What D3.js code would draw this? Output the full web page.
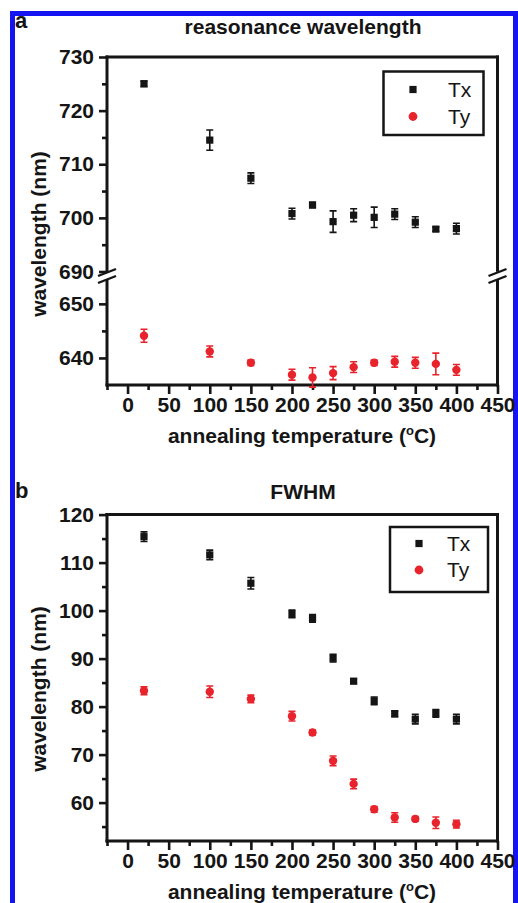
<!DOCTYPE html>
<html>
<head>
<meta charset="utf-8">
<script src="https://cdn.jsdelivr.net/npm/d3@7"></script>
<style>
  body { margin: 0; background: #fff; }
  svg { display: block; }
</style>
</head>
<body>
<svg id="fig" width="518" height="903"></svg>
<script>
// ---- data ----
const temps = [20, 100, 150, 200, 225, 250, 275, 300, 325, 350, 375, 400];
const seriesNames = ["Tx", "Ty"];

// resonance wavelength (nm)
const resTx    = [725.0, 714.5, 707.4, 700.8, 702.4, 699.3, 700.5, 700.1, 700.7, 699.2, 697.9, 698.0];
const resTxErr = [0.5, 1.9, 1.0, 1.0, 0.5, 2.0, 1.2, 1.9, 1.0, 1.0, 0.4, 1.0];
const resTy    = [644.1, 641.2, 639.1, 636.9, 636.4, 637.2, 638.3, 639.1, 639.3, 639.1, 638.9, 637.8];
const resTyErr = [1.2, 1.0, 0.5, 1.0, 1.8, 1.2, 1.0, 0.5, 1.0, 1.0, 2.0, 1.0];

// FWHM (nm)
const fwhmTx    = [115.4, 111.6, 105.7, 99.3, 98.4, 90.1, 85.3, 81.2, 78.5, 77.4, 78.6, 77.4];
const fwhmTxErr = [1.0, 1.0, 1.2, 0.8, 0.8, 0.8, 0.5, 0.8, 0.6, 1.0, 0.8, 1.0];
const fwhmTy    = [83.3, 83.1, 81.6, 78.0, 74.6, 68.7, 63.9, 58.6, 56.9, 56.6, 55.8, 55.5];
const fwhmTyErr = [0.8, 1.2, 0.8, 1.0, 0.5, 1.0, 1.0, 0.6, 1.0, 0.5, 1.2, 0.8];

// axis ticks
const xTicks = [0, 50, 100, 150, 200, 250, 300, 350, 400, 450];
const xMinor = [-25, 25, 75, 125, 175, 225, 275, 325, 375, 425];
const resUpperTicks = [690, 700, 710, 720, 730];
const resUpperMinor = [695, 705, 715, 725];
const resLowerTicks = [640, 650];
const resLowerMinor = [645];
const fwhmTicks = [60, 70, 80, 90, 100, 110, 120];
const fwhmMinor = [55, 65, 75, 85, 95, 105, 115];

// ---- style ----
const FONT = "'Liberation Sans', Arial, Helvetica, sans-serif";
const INK = "#151515";
const RED = "#e8232b";
const BLUE = "#1414f2";
const FS = 21;

const svg = d3.select("#fig");

// outer blue frame (open at the bottom)
svg.append("path")
  .attr("d", "M12.5,903 V13.5 H515.5 V903")
  .attr("fill", "none")
  .attr("stroke", BLUE)
  .attr("stroke-width", 5);

const x = d3.scaleLinear().domain([-25, 450]).range([107, 497.5]);

function styleAxis(sel) {
  sel.select(".domain").remove();
  sel.selectAll(".tick line").attr("stroke", INK).attr("stroke-width", 2.6);
  sel.selectAll(".tick text")
    .attr("fill", INK)
    .attr("font-family", FONT)
    .attr("font-weight", "bold")
    .attr("font-size", FS);
}

function drawPanel(o) {
  const g = svg.append("g");
  const left = x.range()[0], right = x.range()[1];
  const top = o.segments[o.segments.length - 1].scale.range()[1];
  const bottom = o.segments[0].scale.range()[0];

  // x axis: major + minor ticks
  g.append("g").attr("transform", `translate(0,${bottom})`)
    .call(d3.axisBottom(x).tickValues(xTicks).tickSize(9).tickPadding(3).tickSizeOuter(0))
    .call(styleAxis);
  g.append("g").attr("transform", `translate(0,${bottom})`)
    .call(d3.axisBottom(x).tickValues(xMinor).tickSize(5).tickFormat("").tickSizeOuter(0))
    .call(styleAxis);

  // y axis segments
  o.segments.forEach(seg => {
    g.append("g").attr("transform", `translate(${left},0)`)
      .call(d3.axisLeft(seg.scale).tickValues(seg.ticks).tickSize(8).tickPadding(5).tickSizeOuter(0))
      .call(styleAxis);
    g.append("g").attr("transform", `translate(${left},0)`)
      .call(d3.axisLeft(seg.scale).tickValues(seg.minor).tickSize(5).tickFormat("").tickSizeOuter(0))
      .call(styleAxis);
    // vertical frame pieces (left and right)
    const [y0, y1] = seg.lineExtent;
    [left, right].forEach(xx => {
      g.append("line").attr("x1", xx).attr("x2", xx).attr("y1", y0).attr("y2", y1)
        .attr("stroke", INK).attr("stroke-width", 3);
    });
  });

  // horizontal frame lines
  [top, bottom].forEach(yy => {
    g.append("line").attr("x1", left - 1.5).attr("x2", right + 1.5).attr("y1", yy).attr("y2", yy)
      .attr("stroke", INK).attr("stroke-width", 3);
  });

  // axis break marks
  (o.breaks || []).forEach(by => {
    [left, right].forEach(xx => {
      g.append("line")
        .attr("x1", xx - 9).attr("y1", by + 3.5)
        .attr("x2", xx + 9).attr("y2", by - 3.5)
        .attr("stroke", INK).attr("stroke-width", 2.4);
    });
  });

  // data series with error bars
  o.series.forEach(s => {
    const sg = g.append("g");
    const pts = temps.map((t, i) => ({ t, v: s.values[i], e: s.errors[i] }));
    const cap = 3.5;
    sg.selectAll("path.err").data(pts).join("path")
      .attr("class", "err")
      .attr("d", d => {
        const cx = x(d.t), ya = s.scale(d.v + d.e), yb = s.scale(d.v - d.e);
        return `M${cx},${ya}V${yb}M${cx - cap},${ya}H${cx + cap}M${cx - cap},${yb}H${cx + cap}`;
      })
      .attr("fill", "none").attr("stroke", s.color).attr("stroke-width", 1.6);
    if (s.shape === "square") {
      sg.selectAll("rect.mk").data(pts).join("rect").attr("class", "mk")
        .attr("x", d => x(d.t) - 3.6).attr("y", d => s.scale(d.v) - 3.6)
        .attr("width", 7.2).attr("height", 7.2).attr("fill", s.color);
    } else {
      sg.selectAll("circle.mk").data(pts).join("circle").attr("class", "mk")
        .attr("cx", d => x(d.t)).attr("cy", d => s.scale(d.v))
        .attr("r", 4.2).attr("fill", s.color);
    }
  });

  // legend
  const L = o.legend;
  g.append("rect").attr("x", L.x).attr("y", L.y).attr("width", L.w).attr("height", L.h)
    .attr("fill", "#fff").attr("stroke", INK).attr("stroke-width", 2.5);
  o.series.forEach((s, i) => {
    const my = L.y + L.rowY[i];
    if (s.shape === "square") {
      g.append("rect").attr("x", L.mx - 3.6).attr("y", my - 3.6).attr("width", 7.2).attr("height", 7.2).attr("fill", s.color);
    } else {
      g.append("circle").attr("cx", L.mx).attr("cy", my).attr("r", 4.4).attr("fill", s.color);
    }
    g.append("text").attr("x", L.tx).attr("y", my + 7)
      .attr("font-family", FONT).attr("font-size", FS).attr("fill", INK)
      .text(seriesNames[i]);
  });

  // panel letter and title
  g.append("text").attr("x", 15).attr("y", o.letterY)
    .attr("font-family", FONT).attr("font-weight", "bold").attr("font-size", FS + 1).attr("fill", INK)
    .text(o.letter);
  g.append("text").attr("x", 303).attr("y", o.titleY).attr("text-anchor", "middle")
    .attr("font-family", FONT).attr("font-weight", "bold").attr("font-size", FS).attr("fill", INK)
    .text(o.title);

  // x axis title
  const xt = g.append("text").attr("x", 302).attr("y", bottom + 58).attr("text-anchor", "middle")
    .attr("font-family", FONT).attr("font-weight", "bold").attr("font-size", FS).attr("fill", INK);
  xt.append("tspan").text("annealing temperature (");
  xt.append("tspan").attr("font-size", 13).attr("dy", -8).text("o");
  xt.append("tspan").attr("dy", 8).text("C)");

  // y axis title
  g.append("text")
    .attr("transform", `translate(46,${o.yTitleY}) rotate(-90)`)
    .attr("text-anchor", "middle")
    .attr("font-family", FONT).attr("font-weight", "bold").attr("font-size", FS).attr("fill", INK)
    .text("wavelength (nm)");
}

// panel a: resonance wavelength, broken y axis
const yResUpper = d3.scaleLinear().domain([690, 730]).range([271.5, 57]);
const yResLower = d3.scaleLinear().domain([635, 654.5]).range([385, 279.5]);

drawPanel({
  letter: "a", letterY: 28,
  title: "reasonance wavelength", titleY: 34,
  yTitleY: 234,
  segments: [
    { scale: yResLower, ticks: resLowerTicks, minor: resLowerMinor, lineExtent: [386.5, 280] },
    { scale: yResUpper, ticks: resUpperTicks, minor: resUpperMinor, lineExtent: [271.8, 55.5] }
  ],
  breaks: [272.5, 279.5],
  series: [
    { values: resTx, errors: resTxErr, scale: yResUpper, color: INK, shape: "square" },
    { values: resTy, errors: resTyErr, scale: yResLower, color: RED, shape: "circle" }
  ],
  legend: { x: 383.5, y: 71.5, w: 100, h: 63.5, mx: 413, tx: 448, rowY: [18, 45] }
});

// panel b: FWHM
const yFwhm = d3.scaleLinear().domain([52, 120]).range([841, 514.6]);

drawPanel({
  letter: "b", letterY: 498,
  title: "FWHM", titleY: 499,
  yTitleY: 689,
  segments: [
    { scale: yFwhm, ticks: fwhmTicks, minor: fwhmMinor, lineExtent: [842.5, 513.1] }
  ],
  breaks: [],
  series: [
    { values: fwhmTx, errors: fwhmTxErr, scale: yFwhm, color: INK, shape: "square" },
    { values: fwhmTy, errors: fwhmTyErr, scale: yFwhm, color: RED, shape: "circle" }
  ],
  legend: { x: 390, y: 527, w: 98, h: 65, mx: 419, tx: 447, rowY: [16.5, 43] }
});
</script>
</body>
</html>
